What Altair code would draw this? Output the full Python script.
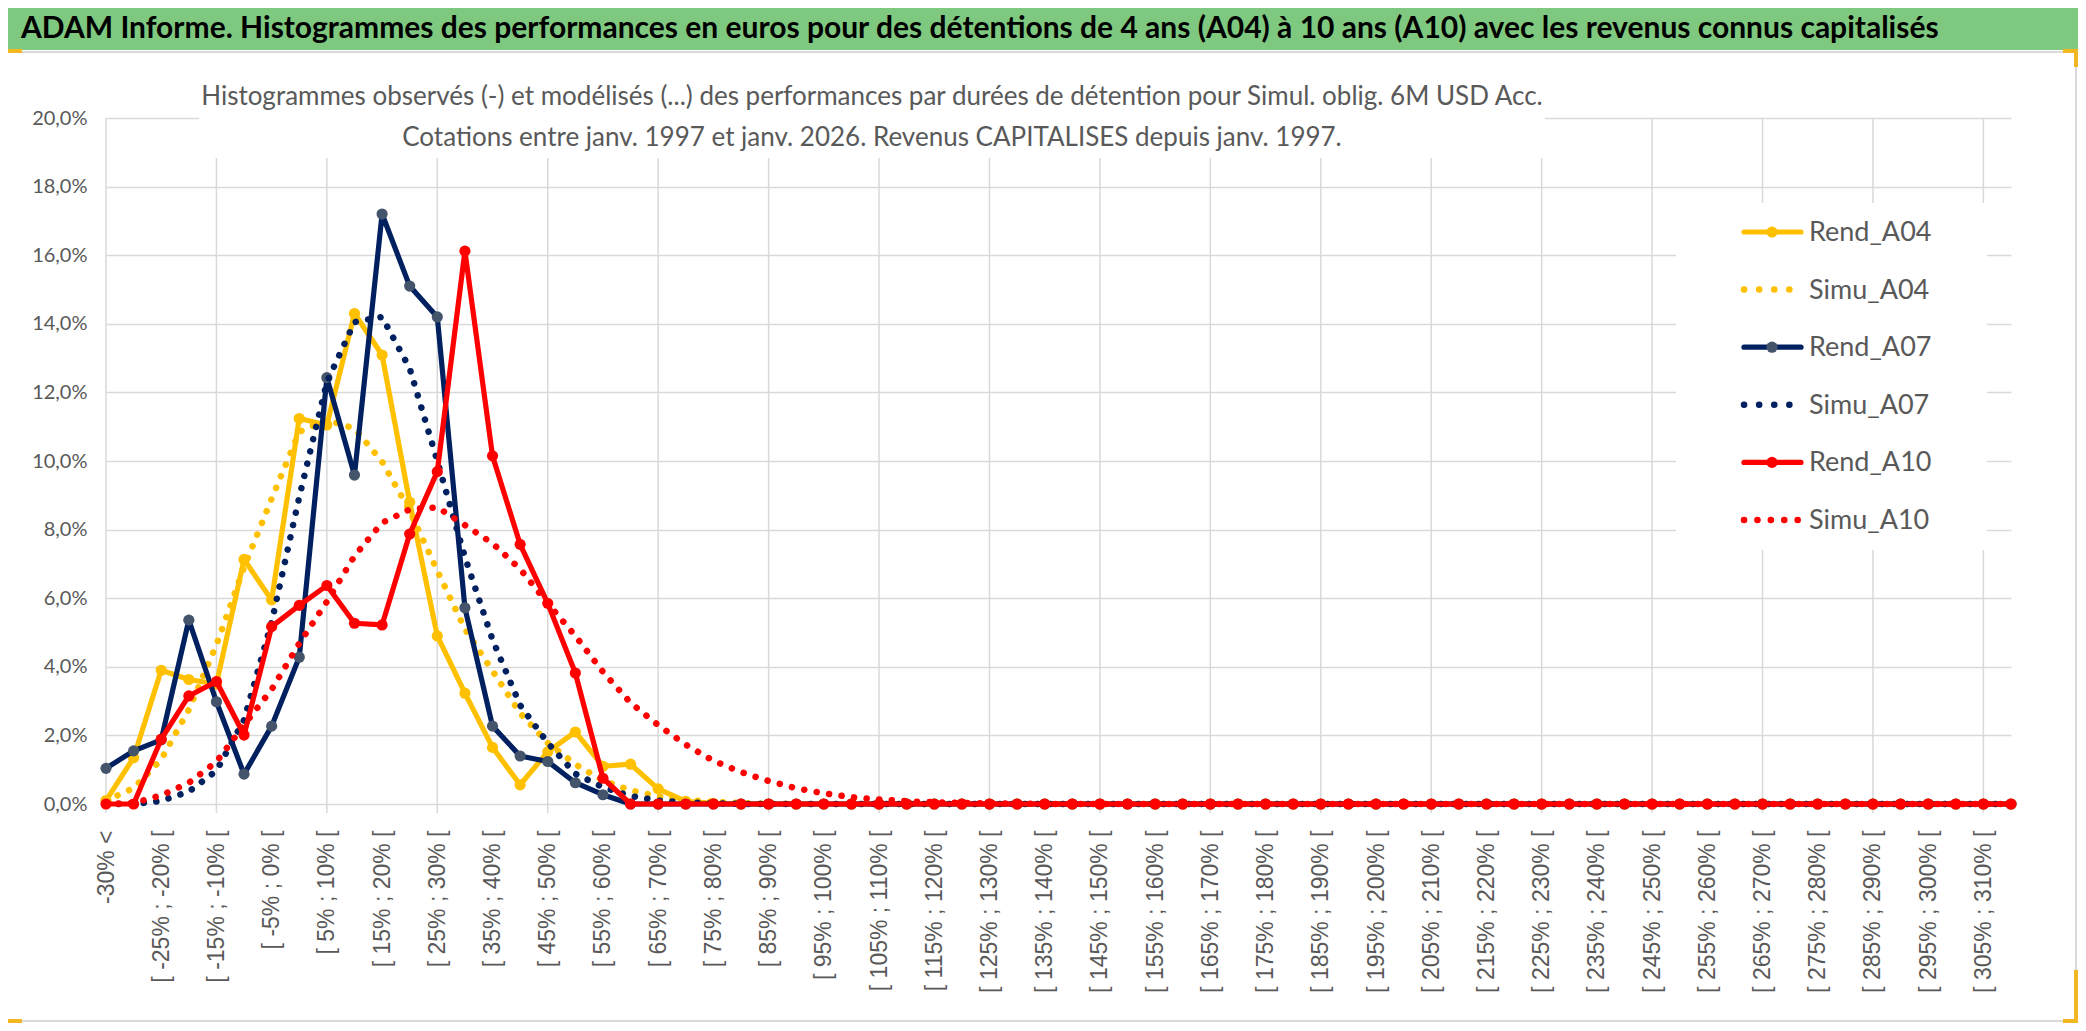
import altair as alt
import pandas as pd

# ---------------- data (values in %) ----------------
bins_low = list(range(-30, 310, 5))
categories = ["-30% <"] + [f"[ {a}% ; {a + 5}% [" for a in bins_low] + ["310% <="]

rend_a04 = [0.1, 1.35, 3.9, 3.63, 3.5, 7.13, 5.95, 11.24, 11.05, 14.3,
            13.09, 8.8, 4.9, 3.23, 1.65, 0.56, 1.52, 2.1, 1.1, 1.16,
            0.44, 0.08, 0.02, 0, 0, 0, 0, 0, 0, 0,
            0, 0, 0, 0, 0, 0, 0, 0, 0, 0,
            0, 0, 0, 0, 0, 0, 0, 0, 0, 0,
            0, 0, 0, 0, 0, 0, 0, 0, 0, 0,
            0, 0, 0, 0, 0, 0, 0, 0, 0, 0]
simu_a04 = [0.1, 0.46, 1.3, 2.75, 4.64, 6.9, 8.9, 10.85, 11.2, 10.95,
            9.98, 8.55, 6.8, 5.1, 3.88, 2.65, 1.78, 1.16, 0.68, 0.4,
            0.22, 0.12, 0.06, 0.03, 0.01, 0, 0, 0, 0, 0,
            0, 0, 0, 0, 0, 0, 0, 0, 0, 0,
            0, 0, 0, 0, 0, 0, 0, 0, 0, 0,
            0, 0, 0, 0, 0, 0, 0, 0, 0, 0,
            0, 0, 0, 0, 0, 0, 0, 0, 0, 0]
rend_a07 = [1.04, 1.55, 1.87, 5.36, 2.98, 0.87, 2.27, 4.28, 12.43, 9.59,
            17.2, 15.1, 14.2, 5.72, 2.27, 1.4, 1.24, 0.62, 0.27, 0,
            0, 0, 0, 0, 0, 0, 0, 0, 0, 0,
            0, 0, 0, 0, 0, 0, 0, 0, 0, 0,
            0, 0, 0, 0, 0, 0, 0, 0, 0, 0,
            0, 0, 0, 0, 0, 0, 0, 0, 0, 0,
            0, 0, 0, 0, 0, 0, 0, 0, 0, 0]
simu_a07 = [0, 0, 0.09, 0.36, 0.97, 2.45, 5.3, 8.95, 12.3, 14.05,
            14.2, 12.7, 10.0, 7.2, 4.79, 2.88, 1.78, 0.88, 0.49, 0.23,
            0.1, 0.05, 0.02, 0, 0, 0, 0, 0, 0, 0,
            0, 0, 0, 0, 0, 0, 0, 0, 0, 0,
            0, 0, 0, 0, 0, 0, 0, 0, 0, 0,
            0, 0, 0, 0, 0, 0, 0, 0, 0, 0,
            0, 0, 0, 0, 0, 0, 0, 0, 0, 0]
rend_a10 = [0, 0, 1.89, 3.15, 3.57, 2.01, 5.17, 5.79, 6.37, 5.27,
            5.22, 7.87, 9.69, 16.12, 10.15, 7.57, 5.85, 3.82, 0.75, 0,
            0, 0, 0, 0, 0, 0, 0, 0, 0, 0,
            0, 0, 0, 0, 0, 0, 0, 0, 0, 0,
            0, 0, 0, 0, 0, 0, 0, 0, 0, 0,
            0, 0, 0, 0, 0, 0, 0, 0, 0, 0,
            0, 0, 0, 0, 0, 0, 0, 0, 0, 0]
simu_a10 = [0, 0.03, 0.25, 0.62, 1.23, 2.3, 3.34, 4.68, 5.9, 7.23,
            8.2, 8.59, 8.65, 8.13, 7.6, 6.85, 5.85, 4.9, 3.85, 2.95,
            2.3, 1.73, 1.26, 0.93, 0.67, 0.46, 0.31, 0.2, 0.13, 0.08,
            0.05, 0.03, 0.02, 0.01, 0, 0, 0, 0, 0, 0,
            0, 0, 0, 0, 0, 0, 0, 0, 0, 0,
            0, 0, 0, 0, 0, 0, 0, 0, 0, 0,
            0, 0, 0, 0, 0, 0, 0, 0, 0, 0]

series_names = ["Rend_A04", "Simu_A04", "Rend_A07", "Simu_A07", "Rend_A10", "Simu_A10"]
series_values = [rend_a04, simu_a04, rend_a07, simu_a07, rend_a10, simu_a10]

y_ticks = [0.0, 0.02, 0.04, 0.06, 0.08, 0.10, 0.12, 0.14, 0.16, 0.18, 0.20]
label_cats = categories[0::2]
grid_cats = categories[0::4]

banner_title = ("ADAM Informe. Histogrammes des performances en euros pour des détentions "
                "de 4 ans (A04) à 10 ans (A10) avec les revenus connus capitalisés")
sub_line1 = ("Histogrammes observés (-) et modélisés (...) des performances par durées "
             "de détention pour Simul. oblig. 6M USD Acc.")
sub_line2 = "Cotations entre janv. 1997 et janv. 2026. Revenus CAPITALISES depuis janv. 1997."

# ---------------- styles ----------------
GOLD, NAVY, RED = "#FFC000", "#002060", "#FF0000"
NAVY_MARK = "#44546A"
GREY_TXT = "#595959"
GRID = "#D9D9D9"
FN = "Lato"
FW = "Liberation Sans"
DOT = [0.1, 12.5]
style = {
    "Rend_A04": dict(color=GOLD, dash=None, marker=GOLD),
    "Simu_A04": dict(color=GOLD, dash=DOT, marker=None),
    "Rend_A07": dict(color=NAVY, dash=None, marker=NAVY_MARK),
    "Simu_A07": dict(color=NAVY, dash=DOT, marker=None),
    "Rend_A10": dict(color=RED, dash=None, marker=RED),
    "Simu_A10": dict(color=RED, dash=DOT, marker=None),
}
LINE_W, DOT_W, MARK_SIZE = 5.2, 6.5, 125

W, H = 1905, 686

rows = []
for name, vals in zip(series_names, series_values):
    for c, v in zip(categories, vals):
        rows.append({"cat": c, "series": name, "value": v / 100.0})
df = pd.DataFrame(rows)

x_enc = alt.X("cat:N",
              scale=alt.Scale(type="point", domain=categories, padding=0),
              axis=alt.Axis(values=label_cats, labelAngle=-90, grid=False, ticks=False,
                            domain=False, labelFont=FW, labelFontSize=23,
                            labelColor=GREY_TXT, labelPadding=26, labelOverlap=False,
                            labelBound=False, title=None))
y_enc = alt.Y("value:Q",
              scale=alt.Scale(domain=[0, 0.2], nice=False),
              axis=alt.Axis(values=y_ticks, grid=True, gridColor=GRID, gridWidth=1.5,
                            ticks=False, domain=False, labelFont=FN, labelFontSize=20,
                            labelColor=GREY_TXT, labelPadding=19, title=None,
                            labelExpr="replace(format(datum.value, '.1%'), '.', ',')"))

one = pd.DataFrame({"k": [0]})


def box(x1, x2, y1, y2, color):
    return alt.Chart(one).mark_rect(color=color).encode(
        x=alt.value(x1), x2=alt.value(x2), y=alt.value(y1), y2=alt.value(y2))


layers = []

# vertical grid lines (every 4th category) with small tick below the axis
layers.append(
    alt.Chart(pd.DataFrame({"cat": grid_cats})).mark_rule(color=GRID, strokeWidth=1.5)
    .encode(x=x_enc, y=alt.value(0), y2=alt.value(H + 9))
)

# chart frame / banner
layers.append(box(-120, 2000, -130, -68, "#7FC87F"))
layers.append(alt.Chart(one).mark_rule(color=GRID, strokeWidth=2).encode(
    x=alt.value(-100), x2=alt.value(1972), y=alt.value(-66)))
layers.append(alt.Chart(one).mark_rule(color=GRID, strokeWidth=2).encode(
    x=alt.value(-100), x2=alt.value(1972), y=alt.value(903)))
layers.append(alt.Chart(one).mark_rule(color=GRID, strokeWidth=2).encode(
    x=alt.value(1970), y=alt.value(-66), y2=alt.value(903)))
layers.append(alt.Chart(one).mark_text(
    text=banner_title, font=FN, fontWeight="bold", fontSize=30, color="#000000",
    align="left", baseline="alphabetic").encode(x=alt.value(-85), y=alt.value(-80)))

# corner selection marks
for (a, b, c, d) in [(-100, -84, -69, -65), (1957, 1972, -69, -65), (1968, 1972, -69, -51),
                     (1968, 1972, 852, 905), (1957, 1972, 901, 905), (-100, -84, 901, 905)]:
    layers.append(box(a, b, c, d, "#F2B824"))

# chart title with white background
layers.append(box(93, 1439, -58, 40, "#FFFFFF"))
layers.append(alt.Chart(one).mark_text(
    text=sub_line1, font=FN, fontSize=26, color=GREY_TXT, align="center",
    baseline="alphabetic").encode(x=alt.value(766), y=alt.value(-13)))
layers.append(alt.Chart(one).mark_text(
    text=sub_line2, font=FN, fontSize=26, color=GREY_TXT, align="center",
    baseline="alphabetic").encode(x=alt.value(766), y=alt.value(28)))

# legend background
layers.append(box(1570, 1881, 85, 432, "#FFFFFF"))

# data series
for name in series_names:
    st = style[name]
    sub = df[df["series"] == name]
    if st["dash"] is None:
        layers.append(alt.Chart(sub).mark_line(
            color=st["color"], strokeWidth=LINE_W, strokeCap="round", strokeJoin="round")
            .encode(x=x_enc, y=y_enc))
        layers.append(alt.Chart(sub).mark_point(
            filled=True, size=MARK_SIZE, opacity=1, color=st["marker"])
            .encode(x=x_enc, y=y_enc))
    else:
        layers.append(alt.Chart(sub).mark_line(
            color=st["color"], strokeWidth=DOT_W, strokeCap="round",
            strokeDash=st["dash"]).encode(x=x_enc, y=y_enc))

# custom legend
LEG_Y0, LEG_STEP = 114, 57.6
for k, name in enumerate(series_names):
    st = style[name]
    yy = LEG_Y0 + k * LEG_STEP
    if st["dash"] is None:
        layers.append(alt.Chart(one).mark_rule(
            color=st["color"], strokeWidth=LINE_W, strokeCap="round").encode(
            x=alt.value(1638), x2=alt.value(1695), y=alt.value(yy)))
        layers.append(alt.Chart(one).mark_point(
            filled=True, size=MARK_SIZE, opacity=1, color=st["marker"]).encode(
            x=alt.value(1666), y=alt.value(yy)))
    else:
        end = 1693 if name == "Simu_A10" else 1684
        gap = 13.3 if name == "Simu_A10" else 15
        layers.append(alt.Chart(one).mark_rule(
            color=st["color"], strokeWidth=DOT_W, strokeCap="round",
            strokeDash=[0.1, gap]).encode(
            x=alt.value(1638), x2=alt.value(end), y=alt.value(yy)))
    layers.append(alt.Chart(one).mark_text(
        text=name, font=FN, fontSize=27, color=GREY_TXT, align="left",
        baseline="middle").encode(x=alt.value(1703), y=alt.value(yy + 1)))

chart = alt.layer(*layers).properties(
    width=W, height=H,
    autosize=alt.AutoSizeParams(type="none"),
    padding={"left": 98, "top": 110, "right": 67, "bottom": 219},
    background="#FFFFFF",
).configure_view(stroke=None)

chart.save("out.html", embed_options={"renderer": "svg", "actions": False})
